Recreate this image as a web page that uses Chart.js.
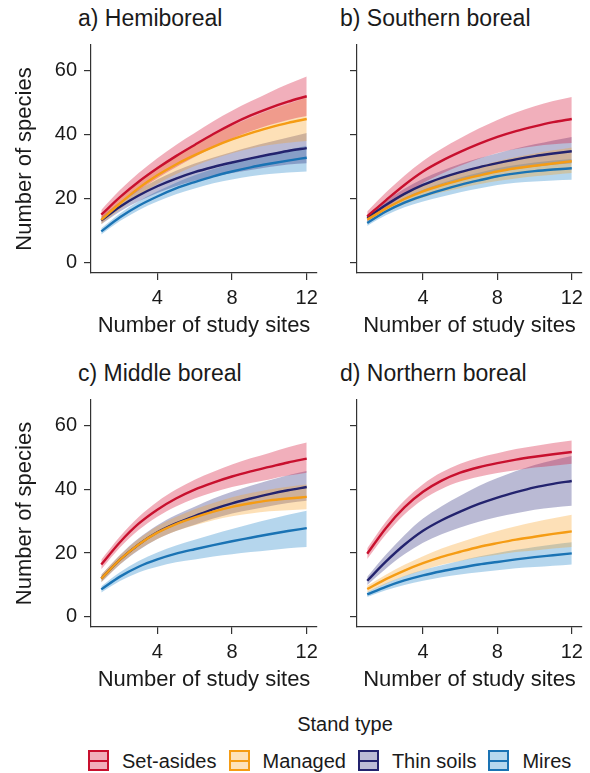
<!DOCTYPE html>
<html>
<head>
<meta charset="utf-8">
<script src="https://cdn.jsdelivr.net/npm/chart.js@4.4.0/dist/chart.umd.min.js"></script>
<style>
  body { margin: 0; background: #fff; width: 590px; height: 773px; position: relative; overflow: hidden;
         font-family: "Liberation Sans", Arial, sans-serif; color: #1a1a1a; }
  canvas { position: absolute; }
  .ptitle { position: absolute; font-size: 23px; line-height: 23px; white-space: nowrap; }
  #legendTitle { position: absolute; top: 714px; left: 245px; width: 200px; text-align: center;
                 font-size: 20px; line-height: 20px; }
  #legend { position: absolute; top: 750px; left: 88px; display: flex; align-items: center;
            font-size: 20px; line-height: 20px; white-space: nowrap; }
  .key { width: 17px; height: 17px; border: 2px solid; position: relative; margin-right: 13px; }
  .key::after { content: ""; position: absolute; left: 0; right: 0; top: 7.5px; height: 2px; background: var(--c); }
  .lab { margin-right: 12px; }
</style>
</head>
<body>
<div class="ptitle" style="left:78px; top:7px">a) Hemiboreal</div>
<div class="ptitle" style="left:340px; top:7px">b) Southern boreal</div>
<div class="ptitle" style="left:78px; top:362px">c) Middle boreal</div>
<div class="ptitle" style="left:340px; top:362px">d) Northern boreal</div>
<canvas id="pa"></canvas>
<canvas id="pb"></canvas>
<canvas id="pc"></canvas>
<canvas id="pd"></canvas>
<div id="legendTitle">Stand type</div>
<div id="legend"></div>
<script>
const sites = [1, 2, 3, 4, 5, 6, 7, 8, 9, 10, 11, 12];
const xTicks = [4, 8, 12];
const yTicks = [0, 20, 40, 60];
const standTypes = ["Set-asides", "Managed", "Thin soils", "Mires"];

// a) Hemiboreal
const hemiSetAsides   = [15, 20.5, 25.3, 29.5, 33.3, 36.8, 40.2, 43.3, 46, 48.3, 50.3, 52];
const hemiSetAsidesLo = [13.5, 18.4, 22.6, 26.4, 29.8, 33, 36.1, 38.8, 41.1, 43, 44.6, 45.8];
const hemiSetAsidesHi = [16.5, 22.7, 28, 32.6, 36.8, 40.5, 44.2, 47.5, 50.4, 53.2, 55.8, 58.2];
const hemiManaged     = [13.4, 18.5, 23.3, 27.3, 30.7, 33.6, 36.2, 38.5, 40.5, 42.2, 43.7, 44.9];
const hemiManagedLo   = [12.1, 16.7, 21, 24.6, 27.6, 30.2, 32.4, 34.2, 35.7, 36.8, 37.5, 38];
const hemiManagedHi   = [14.7, 20.3, 25.6, 30, 33.7, 37, 40, 42.8, 45.3, 47.6, 49.6, 51.5];
const hemiThin        = [13.2, 17.5, 21, 23.9, 26.3, 28.3, 29.9, 31.3, 32.6, 33.8, 34.9, 35.8];
const hemiThinLo      = [12, 16, 19.2, 21.8, 23.9, 25.6, 26.9, 28, 29, 29.9, 30.7, 31.1];
const hemiThinHi      = [14.4, 19, 22.8, 26, 28.7, 31, 32.9, 34.6, 36.2, 37.7, 39.1, 40.5];
const hemiMires       = [9.8, 14.2, 17.8, 20.7, 23.2, 25.2, 27, 28.5, 29.8, 30.9, 31.9, 32.8];
const hemiMiresLo     = [8.8, 13, 16.4, 19.1, 21.4, 23.2, 24.8, 26, 27, 27.7, 28.2, 28.5];
const hemiMiresHi     = [10.8, 15.4, 19.2, 22.3, 25, 27.3, 29.3, 31, 32.6, 34, 35.3, 36.5];

// b) Southern boreal
const southSetAsides   = [14.5, 19.5, 24.3, 28.5, 31.8, 34.6, 37.1, 39.3, 41.1, 42.6, 43.9, 44.9];
const southSetAsidesLo = [13, 17.2, 21.2, 24.9, 27.8, 30.3, 32.5, 34.3, 35.5, 36.4, 37, 37.4];
const southSetAsidesHi = [16, 21.9, 27.2, 31.8, 35.6, 38.9, 41.9, 44.6, 46.9, 48.9, 50.5, 51.8];
const southManaged     = [13.5, 16.9, 19.9, 22.3, 24.2, 25.8, 27.2, 28.5, 29.5, 30.3, 31, 31.7];
const southManagedLo   = [12.5, 15.6, 18.3, 20.4, 22, 23.3, 24.5, 25.5, 26.3, 27, 27.5, 28];
const southManagedHi   = [14.5, 18.2, 21.5, 24.3, 26.5, 28.4, 30.1, 31.7, 33, 34.1, 35.1, 36];
const southThin        = [14, 18, 21.5, 24.3, 26.5, 28.3, 29.8, 31.1, 32.3, 33.3, 34.1, 34.8];
const southThinLo      = [13, 16.8, 20, 22.5, 24.5, 26, 27.3, 28.4, 29.3, 30, 30.6, 31.1];
const southThinHi      = [15, 19.3, 23.1, 26.2, 28.7, 30.8, 32.6, 34.2, 35.7, 37, 38.2, 39.3];
const southMires       = [12.4, 16, 18.8, 20.9, 22.7, 24.3, 25.7, 27, 27.9, 28.6, 29.1, 29.5];
const southMiresLo     = [11.5, 14.8, 17.3, 19.1, 20.6, 22, 23.2, 24.3, 25, 25.4, 25.7, 25.9];
const southMiresHi     = [13.3, 17.2, 20.3, 22.8, 24.8, 26.6, 28.1, 29.5, 30.5, 31.3, 31.9, 32.4];

// c) Middle boreal
const midSetAsides   = [16.4, 23.4, 29.2, 33.6, 37.1, 39.9, 42.1, 44, 45.6, 47, 48.4, 49.6];
const midSetAsidesLo = [14.9, 21.7, 27.2, 31.4, 34.6, 37.1, 39.1, 40.7, 42, 43.1, 44.3, 45.2];
const midSetAsidesHi = [17.9, 25.2, 31.3, 36.1, 39.9, 43, 45.5, 47.8, 49.7, 51.4, 53.2, 54.7];
const midManaged     = [12, 17.9, 22.7, 26.4, 29.1, 31.2, 33, 34.5, 35.6, 36.5, 37.1, 37.6];
const midManagedLo   = [10.8, 16.5, 21, 24.4, 26.9, 28.7, 30.3, 31.5, 32.4, 33.1, 33.4, 33.7];
const midManagedHi   = [13.2, 19.3, 24.4, 28.4, 31.3, 33.7, 35.7, 37.5, 38.8, 39.9, 40.8, 41.5];
const midThin        = [12, 17.9, 22.7, 26.5, 29.3, 31.6, 33.8, 35.6, 37.1, 38.5, 39.7, 40.7];
const midThinLo      = [10.8, 16.4, 20.9, 24.4, 26.9, 28.9, 30.8, 32.4, 33.6, 34.7, 35.7, 36.4];
const midThinHi      = [13.2, 19.4, 24.6, 28.7, 31.9, 34.5, 37.1, 39.2, 41.1, 42.8, 44.4, 45.7];
const midMires       = [8.6, 12.6, 15.7, 18, 19.8, 21.2, 22.5, 23.7, 24.8, 25.9, 26.9, 27.8];
const midMiresLo     = [7.6, 11.2, 13.9, 15.7, 17.1, 18, 18.9, 19.6, 20.3, 20.9, 21.5, 21.9];
const midMiresHi     = [9.6, 14, 17.5, 20.2, 22.4, 24.2, 25.9, 27.5, 29.1, 30.6, 32, 33.3];

// d) Northern boreal
const northSetAsides   = [19.8, 27.8, 34.3, 39.2, 42.7, 45.2, 46.9, 48.2, 49.3, 50.2, 51, 51.7];
const northSetAsidesLo = [18.1, 25.8, 32.1, 36.8, 40.1, 42.4, 43.9, 45.1, 46, 46.8, 47.4, 48];
const northSetAsidesHi = [21.5, 29.8, 36.5, 41.6, 45.3, 48, 49.9, 51.3, 52.6, 53.6, 54.5, 55.3];
const northManaged     = [8.7, 11.8, 14.5, 16.8, 18.8, 20.4, 21.9, 23.1, 24.2, 25.1, 26, 26.8];
const northManagedLo   = [7.7, 10.4, 12.7, 14.6, 16.3, 17.5, 18.7, 19.5, 20.3, 20.8, 21.4, 21.9];
const northManagedHi   = [9.7, 13.2, 16.3, 19, 21.4, 23.4, 25.3, 26.9, 28.4, 29.7, 30.9, 32];
const northThin        = [11.3, 17.3, 22.6, 27, 30.3, 33, 35.4, 37.4, 39.1, 40.6, 41.7, 42.6];
const northThinLo      = [10, 15.1, 19.6, 23.2, 25.9, 28, 29.8, 31.3, 32.5, 33.6, 34.3, 34.8];
const northThinHi      = [12.6, 19.5, 25.6, 30.8, 34.7, 38, 41, 43.5, 45.7, 47.6, 49.1, 50.4];
const northMires       = [7, 9.4, 11.4, 13, 14.3, 15.4, 16.4, 17.2, 18, 18.7, 19.3, 19.9];
const northMiresLo     = [6.2, 8.3, 10, 11.3, 12.4, 13.3, 14, 14.6, 15.2, 15.6, 16, 16.4];
const northMiresHi     = [7.8, 10.5, 12.8, 14.7, 16.2, 17.6, 18.9, 20, 21, 21.9, 22.7, 23.4];

const lineColors = ["#c8102e", "#f59c14", "#23236e", "#1a73b4"];
const bandColors = ["rgba(215,25,60,0.35)", "rgba(250,160,30,0.32)", "rgba(40,40,120,0.32)", "rgba(30,130,200,0.33)"];

const FONT = "'Liberation Sans', Arial, sans-serif";
const INK = "#1a1a1a";
const AXIS = "#333333";

function pts(arr) {
  return sites.map((s, i) => ({ x: s, y: arr[i] }));
}

function makePanel(id, box, plot, series, leftAxis) {
  const cv = document.getElementById(id);
  cv.style.left = box.x + "px";
  cv.style.top = box.y + "px";
  cv.width = box.w;
  cv.height = box.h;

  const datasets = [];
  series.forEach((s, k) => {
    datasets.push({ data: pts(s.lo), borderWidth: 0, pointRadius: 0, fill: false, order: 2,
                    cubicInterpolationMode: "monotone" });
    datasets.push({ data: pts(s.hi), borderWidth: 0, pointRadius: 0, fill: "-1", order: 2,
                    backgroundColor: bandColors[k], cubicInterpolationMode: "monotone" });
  });
  series.forEach((s, k) => {
    datasets.push({ label: standTypes[k], data: pts(s.mean), borderColor: lineColors[k], borderWidth: 2.4,
                    pointRadius: 0, fill: false, order: 1, cubicInterpolationMode: "monotone" });
  });

  const yWidth = plot.left - box.x;
  const xHeight = box.y + box.h - plot.bottom;

  new Chart(cv, {
    type: "line",
    data: { datasets: datasets },
    options: {
      responsive: false,
      animation: false,
      devicePixelRatio: 1,
      layout: { padding: { top: plot.top - box.y, right: box.x + box.w - plot.right, left: 0, bottom: 0 } },
      plugins: { legend: { display: false }, tooltip: { enabled: false } },
      scales: {
        x: {
          type: "linear", min: 0.45, max: 12.55,
          afterBuildTicks: sc => { sc.ticks = xTicks.map(v => ({ value: v })); },
          afterFit: sc => { sc.height = xHeight; sc.paddingLeft = 0; sc.paddingRight = 0; },
          ticks: { font: { size: 20, family: FONT }, color: INK, padding: 6, maxRotation: 0 },
          grid: { drawOnChartArea: false, drawTicks: true, tickLength: 7, color: AXIS, lineWidth: 1.2 },
          border: { display: true, color: AXIS, width: 1.2 },
          title: { display: true, text: "Number of study sites", color: INK,
                   font: { size: 22, family: FONT }, padding: { top: 0, bottom: 6 } }
        },
        y: {
          type: "linear", min: -3.2, max: 68,
          afterBuildTicks: sc => { sc.ticks = yTicks.map(v => ({ value: v })); },
          afterFit: sc => { sc.width = yWidth; sc.paddingTop = 0; sc.paddingBottom = 0; },
          ticks: { display: leftAxis, font: { size: 20, family: FONT }, color: INK, padding: 7 },
          grid: { drawOnChartArea: false, drawTicks: true, tickLength: 7, color: AXIS, lineWidth: 1.2 },
          border: { display: true, color: AXIS, width: 1.2 },
          title: { display: leftAxis, text: "Number of species", color: INK,
                   font: { size: 22, family: FONT }, padding: { top: 12, bottom: 0 } }
        }
      }
    }
  });
}

function group(mean, lo, hi) { return { mean: mean, lo: lo, hi: hi }; }

makePanel("pa", { x: 0, y: 25, w: 330, h: 320 }, { left: 91, top: 45, right: 317, bottom: 273 }, [
  group(hemiSetAsides, hemiSetAsidesLo, hemiSetAsidesHi),
  group(hemiManaged, hemiManagedLo, hemiManagedHi),
  group(hemiThin, hemiThinLo, hemiThinHi),
  group(hemiMires, hemiMiresLo, hemiMiresHi)
], true);

makePanel("pb", { x: 330, y: 25, w: 260, h: 320 }, { left: 357, top: 45, right: 582, bottom: 273 }, [
  group(southSetAsides, southSetAsidesLo, southSetAsidesHi),
  group(southManaged, southManagedLo, southManagedHi),
  group(southThin, southThinLo, southThinHi),
  group(southMires, southMiresLo, southMiresHi)
], false);

makePanel("pc", { x: 0, y: 380, w: 330, h: 319 }, { left: 91, top: 400, right: 317, bottom: 627 }, [
  group(midSetAsides, midSetAsidesLo, midSetAsidesHi),
  group(midManaged, midManagedLo, midManagedHi),
  group(midThin, midThinLo, midThinHi),
  group(midMires, midMiresLo, midMiresHi)
], true);

makePanel("pd", { x: 330, y: 380, w: 260, h: 319 }, { left: 357, top: 400, right: 582, bottom: 627 }, [
  group(northSetAsides, northSetAsidesLo, northSetAsidesHi),
  group(northManaged, northManagedLo, northManagedHi),
  group(northThin, northThinLo, northThinHi),
  group(northMires, northMiresLo, northMiresHi)
], false);

// legend
const legendFills = ["#f1afbb", "#fde2bb", "#bcbcd6", "#b6d8ee"];
const legend = document.getElementById("legend");
standTypes.forEach((name, k) => {
  const key = document.createElement("div");
  key.className = "key";
  key.style.borderColor = lineColors[k];
  key.style.background = legendFills[k];
  key.style.setProperty("--c", lineColors[k]);
  const lab = document.createElement("span");
  lab.className = "lab";
  lab.textContent = name;
  legend.appendChild(key);
  legend.appendChild(lab);
});
</script>
</body>
</html>
